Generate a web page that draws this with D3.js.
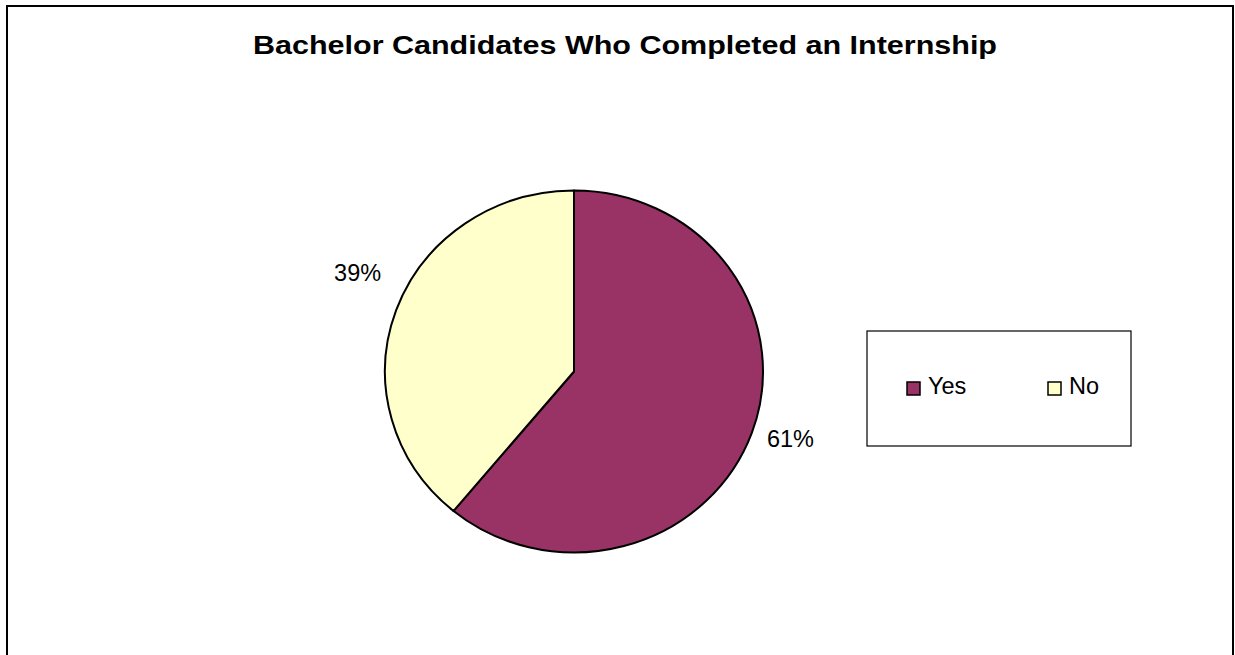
<!DOCTYPE html>
<html>
<head>
<meta charset="utf-8">
<script src="https://cdn.jsdelivr.net/npm/d3@7"></script>
<style>
  html, body { margin: 0; padding: 0; background: #fff; }
  svg { display: block; font-family: "Liberation Sans", Arial, sans-serif; }
</style>
</head>
<body>
<svg id="svg" width="1235" height="655"></svg>
<script>
// --- DATA ---
const TITLE = "Bachelor Candidates Who Completed an Internship";
const categories = ["Yes", "No"];
const values = [61, 39];
const colors = ["#993366", "#FFFFCC"];

// --- LAYOUT ---
const W = 1235, H = 655;
const CX = 574, CY = 371.5;
const RX = 189, RY = 181;
const LABEL_R = 230;

const svg = d3.select("#svg");

// outer border (bottom edge runs off the picture)
svg.append("rect")
  .attr("x", 7).attr("y", 6)
  .attr("width", 1226).attr("height", 720)
  .attr("fill", "none")
  .attr("stroke", "#000")
  .attr("stroke-width", 2);

// title
svg.append("text")
  .attr("x", 625).attr("y", 54)
  .attr("text-anchor", "middle")
  .attr("textLength", 744)
  .attr("lengthAdjust", "spacingAndGlyphs")
  .style("font-size", "25.5px")
  .style("font-weight", "bold")
  .text(TITLE);

// --- PIE ---
const pie = d3.pie().sort(null).value(d => d);
const arcs = pie(values);
const arc = d3.arc().innerRadius(0).outerRadius(RX);
const labelArc = d3.arc().innerRadius(LABEL_R).outerRadius(LABEL_R);

const g = svg.append("g")
  .attr("transform", `translate(${CX},${CY}) scale(1,${RY / RX})`);

g.selectAll("path.slice").data(arcs).enter().append("path")
  .attr("class", "slice")
  .attr("d", arc)
  .attr("fill", (d, i) => colors[i])
  .attr("stroke", "#000")
  .attr("stroke-width", 2)
  .attr("stroke-linejoin", "round")
  .attr("vector-effect", "non-scaling-stroke");

// data labels
svg.selectAll("text.lbl").data(arcs).enter().append("text")
  .attr("class", "lbl")
  .attr("x", d => CX + labelArc.centroid(d)[0])
  .attr("y", d => {
    const c = labelArc.centroid(d);
    // Excel lifts the left-hand label a bit
    return CY + c[1] * RY / RX + (c[0] < 0 ? -22 : -5);
  })
  .attr("text-anchor", "middle")
  .attr("dominant-baseline", "middle")
  .style("font-size", "23.5px")
  .text(d => Math.round(d.value / d3.sum(values) * 100) + "%");

// --- LEGEND ---
const legend = svg.append("g").attr("transform", "translate(867,331)");
legend.append("rect")
  .attr("width", 264).attr("height", 115)
  .attr("fill", "#fff")
  .attr("stroke", "#000")
  .attr("stroke-width", 1.2);

const itemX = [40, 181];
const item = legend.selectAll("g.item").data(categories).enter().append("g")
  .attr("class", "item")
  .attr("transform", (d, i) => `translate(${itemX[i]},51)`);

item.append("rect")
  .attr("width", 13).attr("height", 13)
  .attr("fill", (d, i) => colors[i])
  .attr("stroke", "#000")
  .attr("stroke-width", 1.5);

item.append("text")
  .attr("x", 21).attr("y", 12)
  .style("font-size", "23.5px")
  .text(d => d);
</script>
</body>
</html>
